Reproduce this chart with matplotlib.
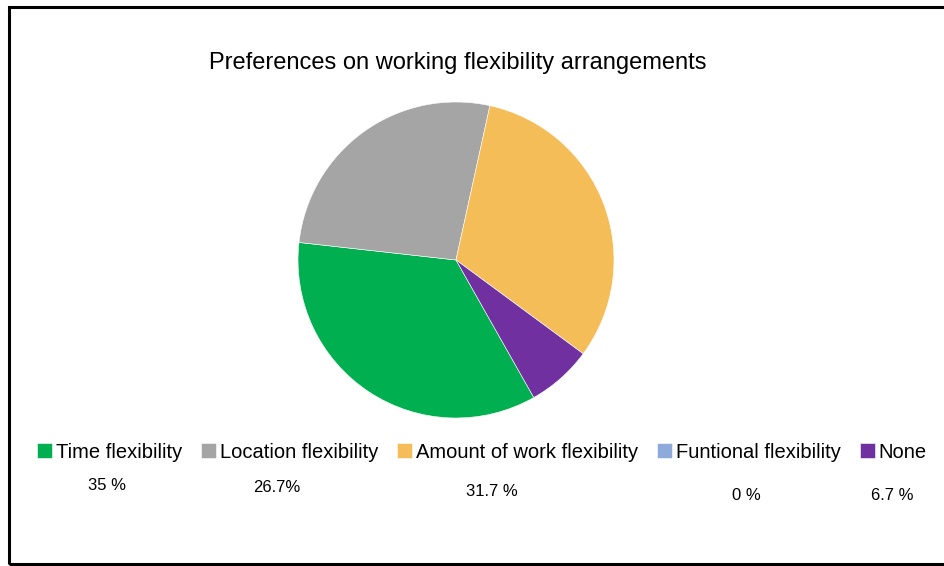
import matplotlib.pyplot as plt
from matplotlib.patches import Rectangle

plt.rcParams['font.family'] = ['Liberation Sans', 'DejaVu Sans']

# chart data
categories = ['Time flexibility', 'Location flexibility', 'Amount of work flexibility',
              'Funtional flexibility', 'None']
shares = [35, 26.7, 31.7, 0, 6.7]
share_labels = ['35 %', '26.7%', '31.7 %', '0 %', '6.7 %']
colors = ['#00B050', '#A5A5A5', '#F5BD58', '#8EAADB', '#7030A0']

W, H = 945, 566
fig = plt.figure(figsize=(W / 100, H / 100), dpi=100)

# outer frame
fig.patches.append(Rectangle((9 / W, 2 / H), 1.0, (564 - 7) / H, transform=fig.transFigure,
                             fill=False, edgecolor='black', linewidth=2.2))

# pie axes: centre (456, 260), radius 158 px
cx, cy, r = 456, 260, 158
ax = fig.add_axes([(cx - r) / W, 1 - (cy + r) / H, 2 * r / W, 2 * r / H])
wedges, _ = ax.pie(shares, colors=colors, startangle=-60.5, counterclock=False,
                   wedgeprops=dict(edgecolor='white', linewidth=0.4))
ax.set_xlim(-1, 1)
ax.set_ylim(-1, 1)
ax.set_aspect('equal')

fig.text(458 / W, 1 - 63 / H, 'Preferences on working flexibility arrangements',
         ha='center', va='center', fontsize=17)

leg = fig.legend(wedges, categories, ncol=5, loc='center',
                 bbox_to_anchor=(482 / W, 1 - 452 / H), frameon=False, fontsize=14.5,
                 handlelength=0.75, handleheight=0.75, handletextpad=0.18,
                 columnspacing=0.95, borderpad=0)

# percent labels under legend
label_x = [107, 277, 492, 746, 892]
label_y = [485, 488, 491, 495, 495]
for x, y, s in zip(label_x, label_y, share_labels):
    fig.text(x / W, 1 - y / H, s, ha='center', va='center', fontsize=12)

fig.savefig('out.png', dpi=100)
